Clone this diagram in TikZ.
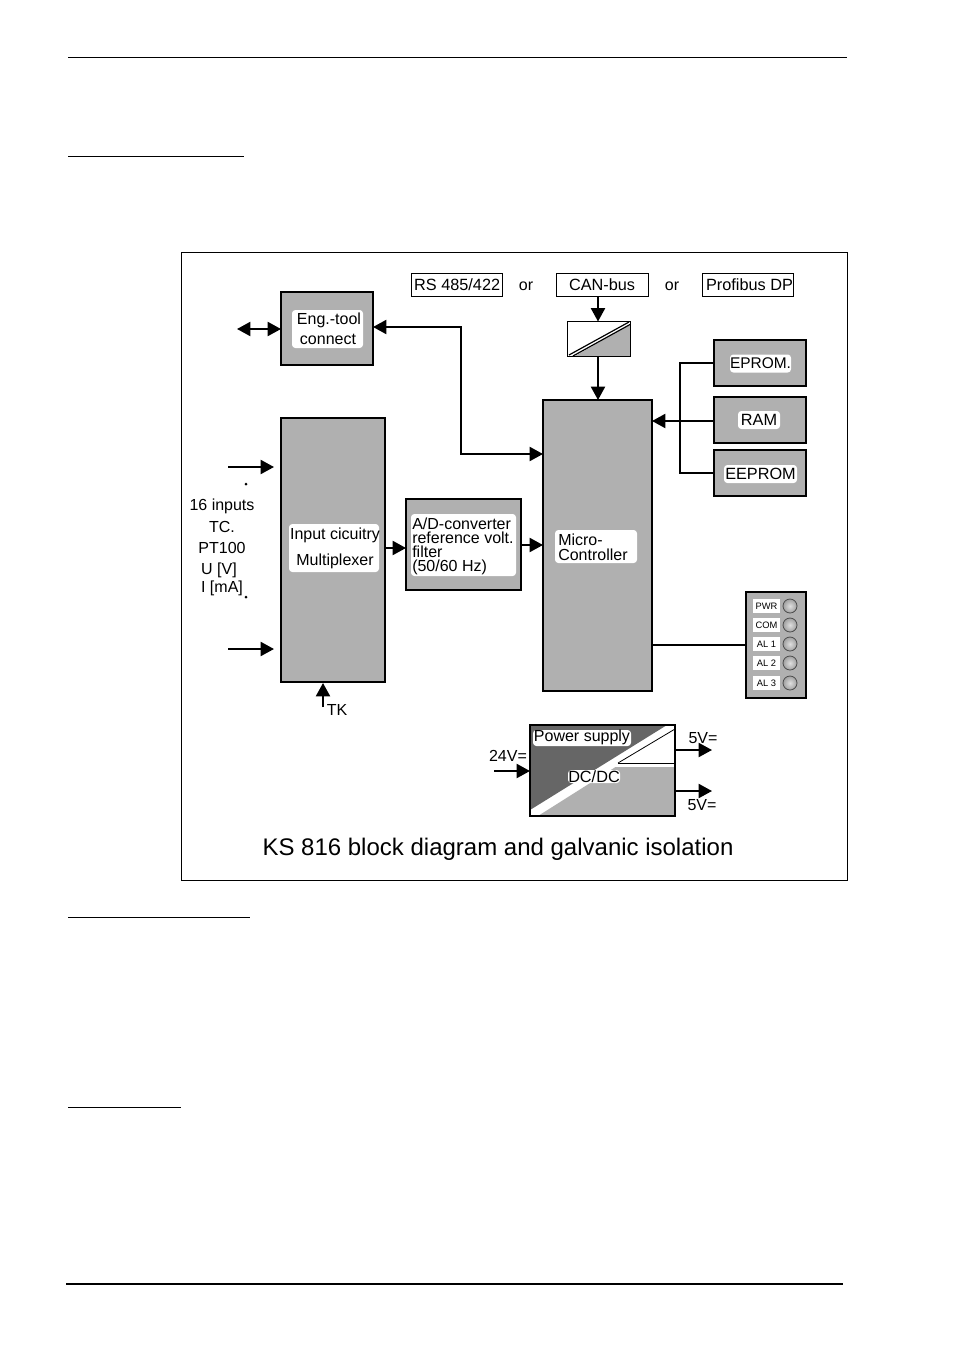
\documentclass[tikz,border=0pt]{standalone}
\usepackage{fontspec}
\setsansfont{Liberation Sans}
\usetikzlibrary{arrows.meta, positioning, calc}
\definecolor{blockgray}{gray}{0.69}
\definecolor{darkgray}{gray}{0.40}

\begin{document}
\begin{tikzpicture}[
  x=0.75pt, y=-0.75pt,
  font=\sffamily,
  size/.style 2 args={minimum width=#1*0.75pt, minimum height=#2*0.75pt},
  block/.style={draw, fill=blockgray, line width=0.8pt, inner sep=0pt, outer sep=0pt},
  bus/.style={draw, fill=white, line width=0.75pt, inner sep=0pt, outer sep=0pt, font=\sffamily\fontsize{12.2}{14}\selectfont},
  tag/.style={fill=white, rounded corners=2.5pt, align=center, inner sep=0pt, font=\sffamily\fontsize{12.2}{14}\selectfont},
  txt/.style={inner sep=0pt, align=center, font=\sffamily\fontsize{12}{14}\selectfont},
  arr/.style={-{Triangle[length=10pt,width=10.5pt]}, line width=1.5pt},
  arrs/.style={{Triangle[length=10pt,width=10.5pt]}-{Triangle[length=10pt,width=10.5pt]}, line width=1.5pt},
  wire/.style={line width=1.5pt},
  rule/.style={line width=0.75pt},
]
\useasboundingbox (0,0) rectangle (954,1350);

% --- page rules ---
\draw[rule] (68,57) -- (847,57);
\draw[rule] (68,156) -- (244,156);
\draw[rule] (68,917) -- (250,917);
\draw[rule] (68,1107) -- (181,1107);
\draw[line width=1.5pt] (66,1284) -- (843,1284);

% --- outer frame ---
\node[draw, line width=0.7pt, size={666}{628}, outer sep=0pt, inner sep=0pt] (frame) at (514,566) {};

% --- field buses ---
\node[bus, size={91}{23}] (rs)  at (456.5,284.5) {\hspace{1pt}RS 485/422};
\node[bus, size={92}{23}] (can) at (602,284.5) {CAN-bus};
\node[bus, size={91}{23}] (dp)  at (747.5,284.5) {\hspace{3pt}Profibus DP};
\node[txt] (or1) at (526,286) {or};
\node[txt] (or2) at (672,286) {or};

% --- isolator under the bus ---
\node[draw, fill=white, line width=1.4pt, size={63}{35}, outer sep=0pt] (iso) at (599,339) {};
\fill[blockgray] (575,356) -- (630,325) -- (630,356) -- cycle;
\draw[line width=0.9pt] (569,355) -- (629,322);
\draw[line width=0.9pt] (573,356) -- (630,324.5);
\node[draw, line width=1.4pt, size={63}{35}, outer sep=0pt] at (599,339) {};

% --- main blocks ---
\node[block, size={92}{73}]   (eng)   at (327,328.5) {};
\node[block, size={104}{264}] (input) at (333,550) {};
\node[block, size={115}{91}]  (adc)   at (463.5,544.5) {};
\node[block, size={109}{291}] (micro) at (597.5,545.5) {};
\node[block, size={92}{46}]   (eprom) at (760,363) {};
\node[block, size={92}{46}]   (ram)   at (760,420) {};
\node[block, size={92}{46}]   (eeprom) at (760,473) {};
\node[block, size={60}{106}]  (leds)  at (776,645) {};

% --- white labels on the blocks ---
\node[tag, size={71}{38}] (engtag) at (327.5,329) {};
\node[txt] at (329,320) {Eng.-tool};
\node[txt] at (328,339) {connect};
\node[tag, size={90}{48}] (inputtag) at (334,548) {};
\node[txt] at (335,535) {Input cicuitry};
\node[txt] at (335,561) {Multiplexer};
\node[tag, size={105}{62}] (adctag) at (463.5,545) {};
\node[txt, align=left, anchor=north west, font=\sffamily\fontsize{12}{10.5}\selectfont] (adctxt) at (412,518)
  {A/D-converter\\reference volt.\\filter\\(50/60 Hz)};
\node[tag, size={82}{33}] (microtag) at (596,546.5) {};
\node[txt, align=left, anchor=west, font=\sffamily\fontsize{12}{11}\selectfont] (microtxt) at (558,547) {Micro-\\Controller};
\node[tag, font=\sffamily\fontsize{11.6}{14}\selectfont, size={61}{18}] (epromtag) at (760.5,363.5) {EPROM.};
\node[tag, size={42}{18}] (ramtag) at (759,420) {RAM};
\node[tag, size={73}{18}] (eepromtag) at (760.5,474) {EEPROM};

% --- status LEDs ---
\foreach \name/\rowy in {PWR/606, COM/625, AL 1/644, AL 2/663, AL 3/683} {
  \node[fill=white, size={27}{14}, inner sep=0pt, font=\sffamily\fontsize{7}{8}\selectfont] (tag\rowy) at (766.5,\rowy) {\name};
  \node[circle, draw=black!70, line width=0.6pt, inner color=gray!25, outer color=gray!75, size={14}{14}, inner sep=0pt] (led\rowy) at (790,\rowy) {};
}

% --- inputs ---
\node[txt] (in1) at (222,506) {16 inputs};
\node[txt] (in2) at (222,527) {TC.};
\node[txt] (in3) at (222,548) {PT100};
\node[txt] (in4) at (219,570) {U [V]};
\node[txt] (in5) at (222,588) {I [mA]};
\node[circle, fill=black, size={3}{3}, inner sep=0pt] (dot1) at (246,484) {};
\node[circle, fill=black, size={3}{3}, inner sep=0pt] (dot2) at (246,597) {};
\node[txt] (tk) at (337,710) {TK};

\coordinate (inA) at (228,467);
\coordinate (inAend) at (274,467);
\coordinate (inB) at (228,649);
\coordinate (inBend) at (274,649);
\coordinate (tkfrom) at (323,707);
\coordinate (tkto) at (323,683);
\coordinate (pc) at (237,329);
\coordinate (microeng) at (543,454);
\coordinate (microram) at (652,421);
\coordinate (microled) at (652,645);

% --- power supply ---
\node[draw, fill=white, line width=0.9pt, size={145}{91}, outer sep=0pt] (psu) at (602.5,770.5) {};
\fill[darkgray] (530,725) -- (667,725) -- (530,810) -- cycle;
\fill[blockgray] (538,816) -- (615.5,767) -- (675,767) -- (675,816) -- cycle;
\draw[line width=0.6pt] (618,763) -- (675,763);
\draw[line width=0.6pt] (618,763) -- (675,729);
\node[draw, line width=0.9pt, size={145}{91}, outer sep=0pt] at (602.5,770.5) {};
\node[tag, size={98}{16}] (psutag) at (582,738) {};
\node[txt] at (582,737) {Power supply};
\node[tag, size={52}{13}] (dctag) at (594,776.5) {DC/DC};
\node[txt] (v24) at (508,756) {24V=};
\node[txt] (v5a) at (703,738) {5V=};
\node[txt] (v5b) at (702,805) {5V=};
\coordinate (psuin) at (494,771);
\coordinate (psuinend) at (530,771);
\coordinate (psuoutA) at (675,750);
\coordinate (psuoutAend) at (712,750);
\coordinate (psuoutB) at (675,791);
\coordinate (psuoutBend) at (712,791);

% --- caption ---
\node[txt, font=\sffamily\fontsize{18}{20}\selectfont] (title) at (498,849) {KS 816 block diagram and galvanic isolation};

% --- connections ---
\draw[arrs] (pc) -- (pc -| eng.west);
\draw[arrs] (eng.east |- 0,327) -- (461,327) |- (microeng);
\draw[arr] (can.south -| 598,0) -- (iso.north -| 598,0);
\draw[arr] (iso.south -| 598,0) -- (micro.north -| 598,0);
\draw[arr] (ram.west |- microram) -- (microram);
\draw[wire] (eprom.west) -- ++(-34,0) |- (eeprom.west);
\draw[arr] (inA) -- (inAend);
\draw[arr] (inB) -- (inBend);
\draw[arr] (tkfrom) -- (tkto);
\draw[arr] (input.east |- 0,548) -- (adc.west |- 0,548);
\draw[arr] (adc.east |- 0,545) -- (micro.west |- 0,545);
\draw[wire] (microled) -- (microled -| leds.west);
\draw[arr] (psuin) -- (psuinend);
\draw[arr] (psuoutA) -- (psuoutAend);
\draw[arr] (psuoutB) -- (psuoutBend);
\end{tikzpicture}
\end{document}
